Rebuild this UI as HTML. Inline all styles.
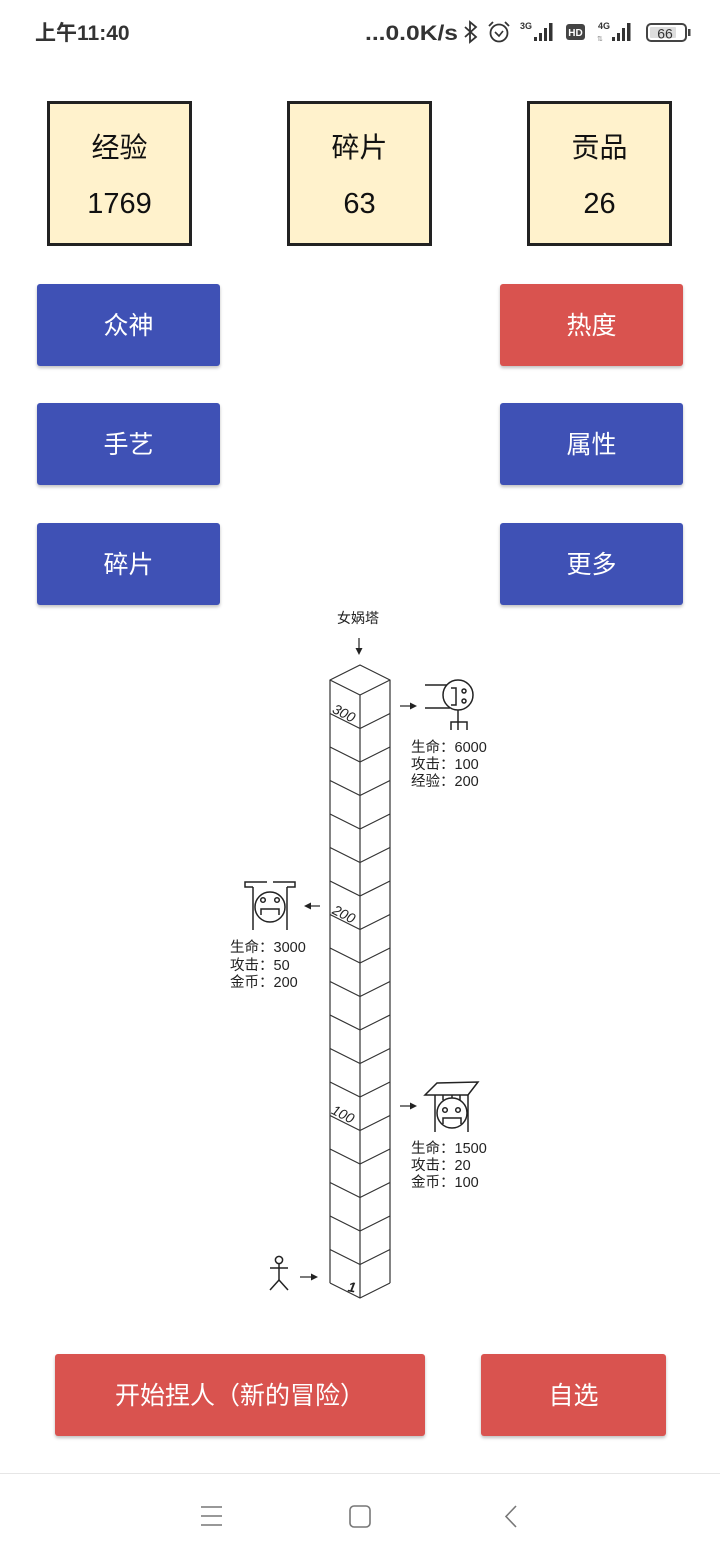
<!DOCTYPE html>
<html>
<head>
<meta charset="utf-8">
<style>
  html,body{margin:0;padding:0;background:#fff;}
  body{width:720px;height:1560px;position:relative;overflow:hidden;font-family:"Liberation Sans","Noto Sans CJK SC",sans-serif;}
  .box{position:absolute;top:101px;width:139px;height:139px;background:#fff2cc;border:3px solid #222;text-align:center;color:#111;}
  .box .t{position:absolute;left:0;right:0;top:26px;font-size:28px;line-height:32px;font-family:"Noto Sans CJK SC","Liberation Sans",sans-serif;}
  .box .n{position:absolute;left:0;right:0;top:84px;font-size:29px;line-height:32px;}
  .btn{position:absolute;width:183px;height:82px;border-radius:3px;color:#fff;font-size:25px;line-height:84px;text-align:center;font-family:"Liberation Sans","Noto Sans CJK SC",sans-serif;box-shadow:0 2px 3px rgba(0,0,0,0.25);}
  .blue{background:#3f51b5;}
  .red{background:#d9534f;}
</style>
</head>
<body>

<div class="box" style="left:47px;"><div class="t">经验</div><div class="n">1769</div></div>
<div class="box" style="left:287px;"><div class="t">碎片</div><div class="n">63</div></div>
<div class="box" style="left:527px;"><div class="t">贡品</div><div class="n">26</div></div>

<div class="btn blue" style="left:37px;top:284px;">众神</div>
<div class="btn red" style="left:500px;top:284px;">热度</div>
<div class="btn blue" style="left:37px;top:403px;">手艺</div>
<div class="btn blue" style="left:500px;top:403px;">属性</div>
<div class="btn blue" style="left:37px;top:523px;">碎片</div>
<div class="btn blue" style="left:500px;top:523px;">更多</div>

<div class="btn red" style="left:55px;top:1354px;width:370px;">开始捏人（新的冒险）</div>
<div class="btn red" style="left:481px;top:1354px;width:185px;">自选</div>

<svg width="720" height="1560" viewBox="0 0 720 1560" style="position:absolute;left:0;top:0;" xmlns="http://www.w3.org/2000/svg">
  <!-- status bar -->
  <text x="35" y="40" font-size="21" font-weight="bold" fill="#333" font-family="Liberation Sans, Noto Sans CJK SC, sans-serif">上午11:40</text>
  <text x="365" y="40" font-size="21" font-weight="bold" fill="#333" textLength="93" lengthAdjust="spacingAndGlyphs" font-family="Liberation Sans, sans-serif">...0.0K/s</text>
  <!-- bluetooth -->
  <path d="M465 27 L476 37 L470 42 L470 22 L476 27 L465 37" fill="none" stroke="#333" stroke-width="1.8"/>
  <!-- alarm -->
  <circle cx="499" cy="33" r="8.5" fill="none" stroke="#333" stroke-width="1.8"/>
  <path d="M495 32 L499 36 L503 31" fill="none" stroke="#333" stroke-width="1.6"/>
  <path d="M489 26 L493 22 M509 26 L505 22" stroke="#333" stroke-width="1.8"/>
  <!-- 3G -->
  <text x="520" y="29" font-size="9" font-weight="bold" fill="#333" font-family="Liberation Sans, sans-serif">3G</text>
  <rect x="534" y="37" width="3" height="4" fill="#333"/>
  <rect x="539" y="33" width="3" height="8" fill="#333"/>
  <rect x="544" y="28" width="3" height="13" fill="#333"/>
  <rect x="549" y="23" width="3.5" height="18" fill="#333"/>
  <!-- HD -->
  <rect x="566" y="24" width="19" height="16" rx="3" fill="#444"/>
  <text x="575.5" y="36" font-size="10" font-weight="bold" fill="#fff" text-anchor="middle" font-family="Liberation Sans, sans-serif">HD</text>
  <!-- 4G -->
  <text x="598" y="29" font-size="9" font-weight="bold" fill="#333" font-family="Liberation Sans, sans-serif">4G</text>
  <text x="597" y="41" font-size="7" fill="#888" font-family="Liberation Sans, sans-serif">⇅</text>
  <rect x="612" y="37" width="3" height="4" fill="#333"/>
  <rect x="617" y="33" width="3" height="8" fill="#333"/>
  <rect x="622" y="28" width="3" height="13" fill="#333"/>
  <rect x="627" y="23" width="3.5" height="18" fill="#333"/>
  <!-- battery -->
  <rect x="647" y="24" width="39" height="17" rx="4" fill="none" stroke="#444" stroke-width="2"/>
  <rect x="650" y="27" width="26" height="11" rx="1" fill="#ddd"/>
  <text x="665" y="38.5" font-size="14" fill="#333" text-anchor="middle" font-family="Liberation Sans, sans-serif">66</text>
  <rect x="688" y="29" width="2.5" height="7" fill="#444"/>

  <!-- diagram -->
  <g font-family="Liberation Sans, Noto Sans CJK SC, sans-serif" fill="#222">
    <text x="358" y="623" font-size="14" text-anchor="middle">女娲塔</text>
  </g>
  <g stroke="#222" stroke-width="1.2" fill="none">
    <line x1="359" y1="638" x2="359" y2="650"/>
    <line x1="400" y1="706" x2="412" y2="706"/>
    <line x1="320" y1="906" x2="309" y2="906"/>
    <line x1="400" y1="1106" x2="412" y2="1106"/>
    <line x1="300" y1="1277" x2="313" y2="1277"/>
  </g>
  <g fill="#222">
    <polygon points="355.5,648 362.5,648 359,655"/>
    <polygon points="410,702.5 417,706 410,709.5"/>
    <polygon points="311,902.5 304,906 311,909.5"/>
    <polygon points="410,1102.5 417,1106 410,1109.5"/>
    <polygon points="311,1273.5 318,1277 311,1280.5"/>
  </g>

  <!-- tower -->
  <g stroke="#333" stroke-width="1.2" fill="none" stroke-linejoin="round">
    <polygon points="330,680 360,665 390,680 360,695"/>
    <line x1="330" y1="680" x2="330" y2="1283"/>
    <line x1="390" y1="680" x2="390" y2="1283"/>
    <line x1="360" y1="695" x2="360" y2="1298"/>
    <polyline points="330,713.5 360,728.5 390,713.5"/>
    <polyline points="330,747 360,762 390,747"/>
    <polyline points="330,780.5 360,795.5 390,780.5"/>
    <polyline points="330,814 360,829 390,814"/>
    <polyline points="330,847.5 360,862.5 390,847.5"/>
    <polyline points="330,881 360,896 390,881"/>
    <polyline points="330,914.5 360,929.5 390,914.5"/>
    <polyline points="330,948 360,963 390,948"/>
    <polyline points="330,981.5 360,996.5 390,981.5"/>
    <polyline points="330,1015 360,1030 390,1015"/>
    <polyline points="330,1048.5 360,1063.5 390,1048.5"/>
    <polyline points="330,1082 360,1097 390,1082"/>
    <polyline points="330,1115.5 360,1130.5 390,1115.5"/>
    <polyline points="330,1149 360,1164 390,1149"/>
    <polyline points="330,1182.5 360,1197.5 390,1182.5"/>
    <polyline points="330,1216 360,1231 390,1216"/>
    <polyline points="330,1249.5 360,1264.5 390,1249.5"/>
    <polyline points="330,1283 360,1298 390,1283"/>
  </g>
  <g font-family="Liberation Sans, sans-serif" font-style="italic" font-size="14" fill="#222" text-anchor="middle">
    <text x="344" y="718" transform="rotate(27 344 713)">300</text>
    <text x="344" y="919" transform="rotate(27 344 914)">200</text>
    <text x="343" y="1119" transform="rotate(27 343 1114)">100</text>
    <text x="352" y="1292" font-weight="bold" transform="rotate(10 352 1287)">1</text>
  </g>

  <!-- top monster -->
  <g stroke="#222" stroke-width="1.5" fill="none">
    <circle cx="458" cy="695" r="15"/>
    <line x1="425" y1="685" x2="447" y2="685"/>
    <line x1="425" y1="708" x2="450" y2="708"/>
    <polyline points="451,688 456,688 456,705 451,705"/>
    <circle cx="464" cy="691" r="2"/>
    <circle cx="464" cy="701" r="2"/>
    <line x1="458" y1="710" x2="458" y2="730"/>
    <polyline points="451,730 451,722 467,722 467,730"/>
  </g>
  <g font-family="Liberation Sans, Noto Sans CJK SC, sans-serif" font-size="14.5" fill="#222">
    <text x="411" y="752">生命：6000</text>
    <text x="411" y="769">攻击：100</text>
    <text x="411" y="786">经验：200</text>
  </g>

  <!-- left monster -->
  <g stroke="#222" stroke-width="1.5" fill="none">
    <polyline points="267,882 245,882 245,887 253,887"/>
    <polyline points="273,882 295,882 295,887 287,887"/>
    <line x1="253" y1="887" x2="253" y2="930"/>
    <line x1="287" y1="887" x2="287" y2="930"/>
    <circle cx="270" cy="907" r="15"/>
    <circle cx="263" cy="900" r="2.3"/>
    <circle cx="277" cy="900" r="2.3"/>
    <polyline points="261,915 261,909 279,909 279,915"/>
  </g>
  <g font-family="Liberation Sans, Noto Sans CJK SC, sans-serif" font-size="14.5" fill="#222">
    <text x="230" y="952">生命：3000</text>
    <text x="230" y="970">攻击：50</text>
    <text x="230" y="987">金币：200</text>
  </g>

  <!-- bottom monster -->
  <g stroke="#222" stroke-width="1.5" fill="none">
    <polygon points="437,1083 478,1082 468,1095 425,1095"/>
    <line x1="435" y1="1095" x2="435" y2="1132"/>
    <line x1="468" y1="1095" x2="468" y2="1132"/>
    <line x1="443" y1="1095" x2="443" y2="1100"/>
    <line x1="452" y1="1095" x2="452" y2="1098"/>
    <line x1="460" y1="1095" x2="460" y2="1100"/>
    <circle cx="452" cy="1113" r="15"/>
    <circle cx="445" cy="1110" r="2.3"/>
    <circle cx="458" cy="1110" r="2.3"/>
    <polyline points="443,1124 443,1118 461,1118 461,1124"/>
  </g>
  <g font-family="Liberation Sans, Noto Sans CJK SC, sans-serif" font-size="14.5" fill="#222">
    <text x="411" y="1153">生命：1500</text>
    <text x="411" y="1170">攻击：20</text>
    <text x="411" y="1187">金币：100</text>
  </g>

  <!-- stick figure -->
  <g stroke="#222" stroke-width="1.5" fill="none">
    <circle cx="279" cy="1260" r="3.6"/>
    <line x1="279" y1="1263.6" x2="279" y2="1280"/>
    <line x1="270" y1="1268" x2="288" y2="1268"/>
    <line x1="279" y1="1280" x2="270" y2="1290"/>
    <line x1="279" y1="1280" x2="288" y2="1290"/>
  </g>

  <!-- nav bar -->
  <line x1="0" y1="1473.5" x2="720" y2="1473.5" stroke="#e6e6e6" stroke-width="1"/>
  <g stroke="#777" stroke-width="1.6" fill="none">
    <line x1="201" y1="1507" x2="222" y2="1507"/>
    <line x1="201" y1="1516" x2="222" y2="1516"/>
    <line x1="201" y1="1525" x2="222" y2="1525"/>
    <rect x="350" y="1506" width="20" height="21" rx="4"/>
    <polyline points="516,1506 506,1516.5 516,1527"/>
  </g>
</svg>

</body>
</html>
